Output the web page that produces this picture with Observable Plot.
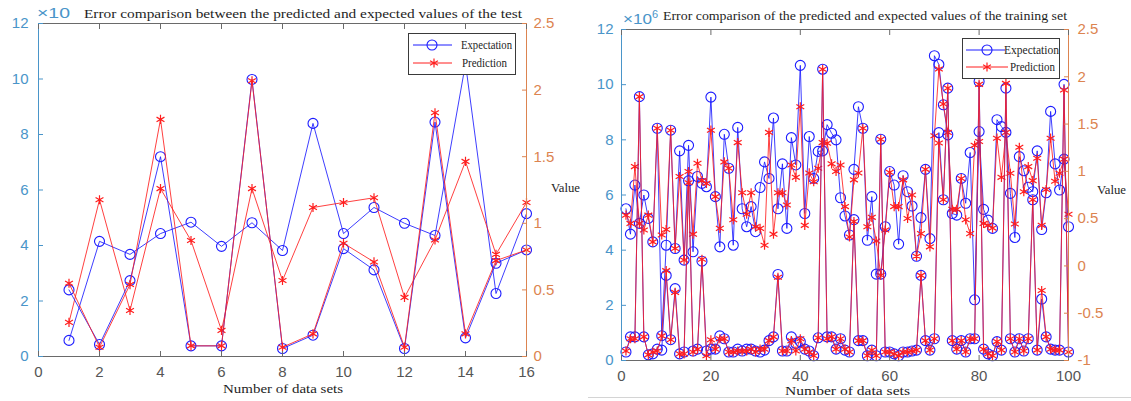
<!DOCTYPE html>
<html><head><meta charset="utf-8">
<script src="https://cdn.jsdelivr.net/npm/d3@7"></script>
<script src="https://cdn.jsdelivr.net/npm/@observablehq/plot@0.6"></script>
<style>
body{margin:0;background:#fff;}
#wrap{position:relative;width:1131px;height:401px;overflow:hidden;background:#fff;}
#wrap > svg{position:absolute;top:0;}
</style></head><body><div id="wrap"></div>
<script>
// ---------- Test set (left panel) ----------
const testXTicks = [0, 2, 4, 6, 8, 10, 12, 14, 16];
const testYTicks = [0, 2, 4, 6, 8, 10, 12];
const testRightTicks = [0, 0.5, 1, 1.5, 2, 2.5];
// left-axis series (×10)
const testExpA  = [0.58, 4.15, 3.68, 4.43, 4.84, 3.97, 4.82, 3.82, 8.4, 4.43, 5.37, 4.8, 4.36, 10.55, 2.27, 5.15];
const testPredA = [1.23, 5.65, 1.66, 6.05, 4.18, 0.94, 6.05, 2.74, 5.37, 5.55, 5.72, 2.13, 4.2, 7.03, 3.68, 5.55];
// right-axis series (Value)
const testExpB  = [0.5, 0.09, 0.57, 1.5, 0.08, 0.08, 2.08, 0.06, 0.16, 0.81, 0.65, 0.06, 1.76, 0.14, 0.7, 0.8];
const testPredB = [0.55, 0.07, 0.54, 1.78, 0.08, 0.08, 2.07, 0.07, 0.17, 0.85, 0.71, 0.07, 1.83, 0.17, 0.72, 0.8];

// ---------- Training set (right panel) ----------
const trainXTicks = [0, 20, 40, 60, 80, 100];
const trainYTicks = [0, 2, 4, 6, 8, 10, 12];
const trainRightTicks = [-1, -0.5, 0, 0.5, 1, 1.5, 2, 2.5];
// left-axis series (×10^6)
const trainExpA = [5.5,4.58,6.36,4.97,6.0,5.15,4.3,8.42,0.9,4.18,
 8.35,4.06,7.6,3.64,7.8,3.94,6.67,6.42,6.3,9.55,
 5.94,4.12,8.2,6.97,4.18,8.45,5.5,4.85,5.58,4.67,
 6.27,7.2,6.6,8.79,5.5,7.13,4.79,8.08,7.09,10.7,
 5.33,8.12,6.6,7.58,7.6,8.55,8.24,8.0,5.9,5.24,
 4.55,6.93,9.2,8.42,4.36,5.94,3.13,3.13,4.85,6.85,
 6.36,4.22,6.7,6.12,5.6,3.78,5.18,6.93,4.42,11.05,
 10.73,9.27,8.18,5.33,5.27,6.6,5.7,7.54,2.2,8.3,
 5.48,5.09,4.79,8.73,8.48,8.27,6.06,4.46,7.39,6.88,
 6.28,6.12,7.6,4.75,6.08,9.03,7.13,6.18,7.3,4.85];
const trainPredA = [5.27,4.97,7.03,4.97,4.73,5.27,4.3,8.42,4.55,4.75,
 8.35,4.06,6.67,3.64,6.85,4.58,7.15,6.52,6.42,8.35,
 5.94,4.79,7.2,6.97,5.1,7.9,6.08,5.3,6.08,4.85,
 4.79,4.18,8.27,4.58,6.08,6.08,5.64,7.09,6.64,9.2,
 4.9,6.8,6.48,6.97,7.9,7.88,7.13,6.85,7.09,5.58,
 4.48,6.55,6.8,8.42,4.85,5.19,4.33,3.09,4.73,6.82,
 5.58,5.58,6.55,5.15,6.0,3.78,4.6,6.93,4.12,8.15,
 10.57,9.3,8.27,5.48,5.48,6.6,5.1,4.6,7.8,7.94,
 4.97,4.9,4.8,8.06,6.64,8.27,6.79,4.95,7.73,6.12,
 7.03,6.52,7.33,4.9,6.2,8.06,6.5,6.79,7.3,5.3];
// right-axis series (Value)
const trainExpB = [-0.91,-0.75,-0.75,1.79,-0.75,-0.94,-0.93,-0.88,-0.89,-0.1,
 -0.78,-0.24,-0.93,-0.91,0.9,-0.9,-0.88,0.05,-0.9,-0.88,
 -0.88,-0.74,-0.77,-0.91,-0.91,-0.88,-0.9,-0.88,-0.88,-0.9,
 -0.91,-0.89,-0.79,-0.75,-0.09,-0.9,-0.9,-0.75,-0.82,-0.8,
 -0.88,-0.9,-0.95,-0.76,2.08,-0.75,-0.75,-0.88,-0.77,-0.89,
 -0.91,0.49,-0.79,-0.79,-0.95,-0.89,-0.95,1.34,-0.91,-0.91,
 -0.93,-0.95,-0.91,-0.91,-0.9,-0.89,-0.1,-0.79,-0.89,-0.77,
 1.41,0.7,1.88,-0.79,-0.88,-0.79,-0.91,-0.77,-0.77,1.95,
 -0.88,-0.93,-0.95,-0.8,-0.89,1.88,-0.77,-0.91,-0.77,-0.9,
 -0.77,0.7,-0.89,-0.35,-0.75,-0.88,-0.89,-0.89,1.92,-0.91];
const trainPredB = [-0.9,-0.77,-0.77,1.79,-0.75,-0.94,-0.91,-0.9,-0.74,-0.05,
 -0.78,-0.28,-0.93,-0.93,0.88,-0.91,-0.88,0.07,-0.95,-0.78,
 -0.88,-0.77,-0.77,-0.91,-0.91,-0.9,-0.9,-0.9,-0.88,-0.91,
 -0.88,-0.88,-0.79,-0.75,-0.12,-0.9,-0.9,-0.79,-0.9,-0.77,
 -0.88,-0.91,-0.95,-0.76,2.08,-0.77,-0.75,-0.88,-0.77,-0.88,
 -0.91,0.47,-0.79,-0.79,-0.95,-0.89,-0.95,1.34,-0.91,-0.91,
 -0.93,-0.95,-0.91,-0.91,-0.9,-0.89,-0.1,-0.79,-0.89,-0.77,
 1.3,0.7,1.88,-0.79,-0.88,-0.79,-0.91,-0.77,-0.77,1.92,
 -0.88,-0.93,-0.95,-0.8,-0.89,1.93,-0.77,-0.91,-0.77,-0.9,
 -0.77,0.7,-0.89,-0.26,-0.75,-0.88,-0.89,-0.89,1.86,-0.91];

const BLUE = "#1c1cff", RED = "#ff1f1f";
const AXB = "#4a95c9", AXO = "#dc8450", GRAY = "#6a6a6a";

const pts = (vals, conv = v => v) => vals.map((v, i) => ({x: i + 1, y: conv(v)}));
const fmt = r => String(+r.toFixed(2));

function panel(o) {
  const {xDomain, xTicks, yTicks, rightTicks, toLeft, fromLeft, expA, predA, expB, predB} = o;
  const series = (vals, conv, color, isExp) => [
    Plot.line(pts(vals, conv), {x: "x", y: "y", stroke: color, strokeWidth: 1, strokeOpacity: 0.85}),
    isExp
      ? Plot.dot(pts(vals, conv), {x: "x", y: "y", r: 5, stroke: color, fill: "none", strokeWidth: 1.1})
      : Plot.dot(pts(vals, conv), {x: "x", y: "y", r: 4.3, symbol: "asterisk", stroke: color, strokeWidth: 1.2})
  ];
  const rTicks = rightTicks.map(toLeft);
  return Plot.plot({
    width: o.width, height: o.height,
    marginLeft: o.ml, marginRight: o.mr, marginTop: o.mt, marginBottom: o.mb,
    x: {domain: xDomain, label: null},
    y: {domain: [0, 12], label: null},
    style: {fontFamily: "'Liberation Sans', Arial, sans-serif", fontSize: "14.5px", background: "transparent", overflow: "visible"},
    marks: [
      ...series(expA, undefined, BLUE, true),
      ...series(predA, undefined, RED, false),
      ...series(expB, toLeft, BLUE, true),
      ...series(predB, toLeft, RED, false),
      Plot.ruleY([0], {stroke: GRAY}),
      Plot.ruleY([12], {stroke: GRAY}),
      Plot.ruleX([xDomain[0]], {stroke: AXB}),
      Plot.ruleX([xDomain[1]], {stroke: AXO}),
      Plot.axisX({ticks: xTicks, anchor: "bottom", tickSize: -5, tickFormat: () => "", color: GRAY, label: null}),
      Plot.axisX({ticks: xTicks, anchor: "top", tickSize: -5, tickFormat: () => "", color: GRAY, label: null}),
      Plot.axisX({ticks: xTicks, anchor: "bottom", tickSize: 0, tickPadding: 10, color: "#555", label: null, fontSize: 15}),
      Plot.axisY({ticks: yTicks, anchor: "left", tickSize: -5, tickFormat: () => "", color: AXB, label: null}),
      Plot.axisY({ticks: yTicks, anchor: "left", tickSize: 0, tickPadding: o.lpad, color: AXB, label: null, fontSize: 15}),
      Plot.axisY({ticks: rTicks, anchor: "right", tickSize: -5, tickFormat: () => "", color: AXO, label: null}),
      Plot.axisY({ticks: rTicks, anchor: "right", tickSize: 0, tickPadding: o.rpad, tickFormat: d => fmt(fromLeft(d)), color: AXO, label: null, fontSize: 15})
    ]
  });
}

const wrap = document.getElementById("wrap");

const left = panel({
  width: 580, height: 401, ml: 38, mr: 54, mt: 23, mb: 45, lpad: 10, rpad: 7,
  xDomain: [0, 16], xTicks: testXTicks, yTicks: testYTicks, rightTicks: testRightTicks,
  toLeft: r => r * 12 / 2.5, fromLeft: y => y * 2.5 / 12,
  expA: testExpA, predA: testPredA, expB: testExpB, predB: testPredB
});
left.style.left = "0px";
wrap.appendChild(left);

const right = panel({
  width: 551, height: 401, ml: 41, mr: 63, mt: 29, mb: 41, lpad: 8, rpad: 9,
  xDomain: [0, 100], xTicks: trainXTicks, yTicks: trainYTicks, rightTicks: trainRightTicks,
  toLeft: r => (r + 1) * 12 / 3.5, fromLeft: y => y * 3.5 / 12 - 1,
  expA: trainExpA, predA: trainPredA, expB: trainExpB, predB: trainPredB
});
right.style.left = "580px";
wrap.appendChild(right);

// ---------- annotation overlay ----------
const ov = d3.create("svg").attr("width", 1131).attr("height", 401).style("left", "0px")
  .style("pointer-events", "none");
const SERIF = "'Liberation Serif', 'Times New Roman', serif";
const SANS = "'Liberation Sans', Arial, sans-serif";
function txt(s, x, y, len, size, fam, fill) {
  const t = ov.append("text").attr("x", x).attr("y", y).attr("font-family", fam)
    .attr("font-size", size).attr("fill", fill).text(s);
  if (len) t.attr("textLength", len).attr("lengthAdjust", "spacingAndGlyphs");
  return t;
}
// faint image border under the right panel
ov.append("line").attr("x1", 588).attr("x2", 1131).attr("y1", 397.5).attr("y2", 397.5)
  .attr("stroke", "#d4d4d4").attr("stroke-width", 1);
// titles
txt("Error comparison between the predicted and expected values of the test", 84, 17.5, 438, 13.5, SERIF, "#1e1e1e");
txt("Error comparison of the predicted and expected values of the training set", 663, 20, 404, 13.5, SERIF, "#1e1e1e");
// exponent labels
txt("\u00d710", 37, 18, 33, 14.5, SANS, AXB);
txt("\u00d710", 623, 24, 29, 14.5, SANS, AXB);
txt("6", 652, 18, null, 11, SANS, AXB);
// axis labels
txt("Number of data sets", 223, 393, 120, 13, SERIF, "#1e1e1e");
txt("Number of data sets", 785, 395, 125, 13, SERIF, "#1e1e1e");
txt("Value", 551, 192, 29, 13, SERIF, "#1e1e1e");
txt("Value", 1097, 194, 29, 13, SERIF, "#1e1e1e");

// legends
function legend(x, y, w, h, rows) {
  ov.append("rect").attr("x", x).attr("y", y).attr("width", w).attr("height", h)
    .attr("fill", "#fff").attr("stroke", "#3a3a3a").attr("stroke-width", 1);
  rows.forEach(r => {
    ov.append("line").attr("x1", r.x1).attr("x2", r.x2).attr("y1", r.y).attr("y2", r.y)
      .attr("stroke", r.color).attr("stroke-width", 1);
    if (r.exp) {
      ov.append("circle").attr("cx", r.mx).attr("cy", r.y).attr("r", 5)
        .attr("fill", "none").attr("stroke", r.color).attr("stroke-width", 1.1);
    } else {
      ov.append("path").attr("d", d3.symbol(d3.symbolAsterisk, Math.PI * 4.3 * 4.3)())
        .attr("transform", `translate(${r.mx},${r.y})`).attr("fill", "none")
        .attr("stroke", r.color).attr("stroke-width", 1.2);
    }
    txt(r.label, r.tx, r.y + 3.5, r.len, 11.5, SERIF, "#1e1e1e");
  });
}
legend(408.5, 33.5, 107, 41, [
  {label: "Expectation", exp: true, color: BLUE, x1: 413, x2: 452, mx: 432, y: 45, tx: 461, len: 51},
  {label: "Prediction", exp: false, color: RED, x1: 413, x2: 452, mx: 434, y: 63, tx: 462, len: 45}
]);
legend(962.5, 38.5, 97, 40, [
  {label: "Expectation", exp: true, color: BLUE, x1: 966, x2: 1005, mx: 987, y: 50, tx: 1004, len: 55},
  {label: "Prediction", exp: false, color: RED, x1: 966, x2: 1008, mx: 987, y: 67, tx: 1010, len: 45}
]);

wrap.appendChild(ov.node());
</script>
</body></html>
